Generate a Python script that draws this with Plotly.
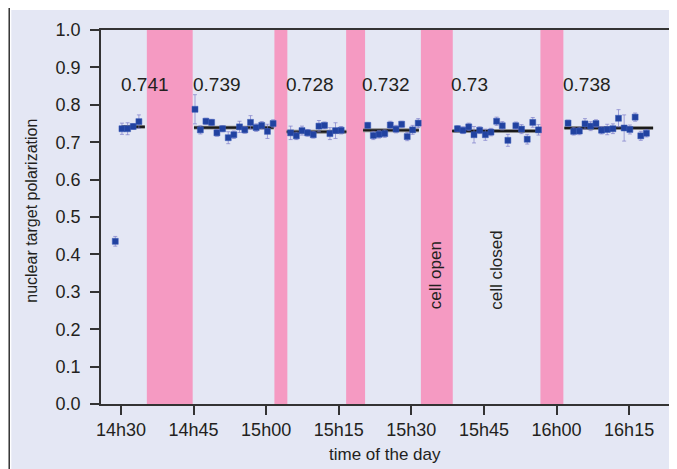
import plotly.graph_objects as go

# x values: minutes after 14h30
tick_vals = [0, 15, 30, 45, 60, 75, 90, 105]
tick_text = ["14h30", "14h45", "15h00", "15h15", "15h30", "15h45", "16h00", "16h15"]

time_min = [
    -1.17, 0.21, 1.38, 2.53, 3.71,
    15.30, 16.41, 17.56, 18.74, 19.83, 21.00, 22.17, 23.33, 24.50, 25.59, 26.77, 27.94, 29.09, 30.27, 31.44,
    35.06, 36.24, 37.41, 38.56, 39.74, 40.91, 42.06, 43.18, 44.33, 45.50,
    51.00, 52.15, 53.33, 54.50, 55.65, 56.83, 58.00, 59.15, 60.26, 61.42,
    69.53, 70.68, 71.86, 72.95, 74.12, 75.29, 76.45, 77.62, 78.79, 79.95, 81.59, 82.77, 83.94, 85.09, 86.27,
    92.38, 93.54, 94.71, 95.88, 97.04, 98.15, 99.30, 100.47, 101.65, 102.80, 103.97, 105.15, 106.24, 107.41, 108.57,
]
polarization = [
    0.435, 0.736, 0.736, 0.742, 0.755,
    0.788, 0.733, 0.756, 0.753, 0.725, 0.736, 0.712, 0.720, 0.741, 0.733, 0.753, 0.739, 0.745, 0.729, 0.750,
    0.725, 0.717, 0.731, 0.725, 0.720, 0.743, 0.745, 0.723, 0.731, 0.732,
    0.745, 0.718, 0.721, 0.723, 0.746, 0.735, 0.748, 0.715, 0.733, 0.751,
    0.736, 0.732, 0.741, 0.720, 0.732, 0.720, 0.727, 0.756, 0.744, 0.705, 0.744, 0.735, 0.708, 0.753, 0.733,
    0.751, 0.729, 0.730, 0.749, 0.743, 0.750, 0.732, 0.734, 0.736, 0.764, 0.738, 0.734, 0.767, 0.717, 0.724,
]
pol_error = [
    0.013, 0.015, 0.016, 0.008, 0.018,
    0.039, 0.011, 0.008, 0.008, 0.009, 0.008, 0.016, 0.010, 0.015, 0.009, 0.018, 0.010, 0.010, 0.019, 0.010,
    0.018, 0.010, 0.012, 0.009, 0.009, 0.015, 0.009, 0.016, 0.021, 0.010,
    0.008, 0.011, 0.010, 0.010, 0.010, 0.010, 0.008, 0.011, 0.012, 0.012,
    0.008, 0.009, 0.010, 0.022, 0.009, 0.015, 0.010, 0.011, 0.011, 0.016, 0.010, 0.012, 0.013, 0.013, 0.014,
    0.008, 0.010, 0.010, 0.014, 0.012, 0.010, 0.010, 0.014, 0.013, 0.023, 0.035, 0.012, 0.011, 0.012, 0.010,
]

fit_start = [0.14, 15.09, 34.24, 50.03, 68.42, 91.62]
fit_end = [4.94, 31.56, 46.59, 61.56, 86.62, 109.95]
fit_value = [0.741, 0.739, 0.728, 0.732, 0.73, 0.738]
fit_label = ["0.741", "0.739", "0.728", "0.732", "0.73", "0.738"]
fit_label_y = 0.853

band_start = [5.35, 31.71, 46.53, 61.97, 86.67]
band_end = [14.82, 34.38, 50.44, 68.56, 91.41]

note_text = ["cell open", "cell closed"]
note_x = [65.0, 77.6]
note_y = 0.247

FONT = "Liberation Sans, Arial, sans-serif"
LAV = "#e4e7f4"
PINK = "#f59ac2"
TXT = "#231f20"

# page offset of the figure (browser body margin)
OFF = 8
PL, PT, PW, PH = 101, 30, 572, 374  # plot area in page pixels


def px(x):
    return (x - PL) / PW


def py(y):
    return (PT + PH - y) / PH


fig = go.Figure()

# fit lines
fx, fy = [], []
for s, e, v in zip(fit_start, fit_end, fit_value):
    fx += [s, e, None]
    fy += [v, v, None]
fig.add_trace(go.Scatter(x=fx, y=fy, mode="lines",
                         line=dict(color="#8a8a8a", width=3.8), hoverinfo="skip", showlegend=False))
fig.add_trace(go.Scatter(x=fx, y=fy, mode="lines",
                         line=dict(color="#1a1a1a", width=2.2), hoverinfo="skip", showlegend=False))

# data points
fig.add_trace(go.Scatter(
    x=time_min, y=polarization, mode="markers",
    marker=dict(symbol="square", size=6, color="#2142a0", line=dict(color="#3d5cb8", width=0.5)),
    error_y=dict(type="data", array=pol_error, visible=True, color="rgba(120,120,200,0.65)",
                 thickness=1, width=2),
    showlegend=False))

shapes = []
shapes.append(dict(type="rect", xref="paper", yref="paper",
                   x0=px(11), x1=1.05, y0=py(480), y1=py(10),
                   fillcolor=LAV, line=dict(width=0), layer="below"))
shapes.append(dict(type="line", xref="paper", yref="paper",
                   x0=px(8.9), x1=px(8.9), y0=-0.3, y1=1.2,
                   line=dict(color="#333333", width=1.5), layer="above"))
for s, e in zip(band_start, band_end):
    shapes.append(dict(type="rect", xref="x", yref="y", x0=s, x1=e, y0=0, y1=1,
                       fillcolor=PINK, line=dict(width=0), layer="below"))

annotations = []
for s, lab in zip(fit_start, fit_label):
    annotations.append(dict(x=s, y=fit_label_y, xref="x", yref="y", text=lab, showarrow=False,
                            xanchor="left", yanchor="middle", xshift=-3,
                            font=dict(family=FONT, size=19, color=TXT)))
for t, x in zip(note_text, note_x):
    annotations.append(dict(x=x, y=note_y, xref="x", yref="y", text=t, showarrow=False,
                            textangle=-90, xanchor="center", yanchor="bottom",
                            font=dict(family=FONT, size=17, color=TXT)))
annotations.append(dict(x=px(31), y=py(210.5), xref="paper", yref="paper",
                        text="nuclear target polarization", showarrow=False, textangle=-90,
                        xanchor="center", yanchor="middle",
                        font=dict(family=FONT, size=16, color=TXT)))
annotations.append(dict(x=px(386), y=py(455), xref="paper", yref="paper",
                        text="time of the day", showarrow=False,
                        xanchor="center", yanchor="middle",
                        font=dict(family=FONT, size=17, color=TXT)))

W, H = 677 - OFF, 469 - OFF
fig.update_layout(
    width=W, height=H,
    margin=dict(l=PL - OFF, r=W - (PL - OFF) - PW, t=PT - OFF, b=H - (PT - OFF) - PH, pad=0),
    paper_bgcolor="white", plot_bgcolor=LAV,
    shapes=shapes, annotations=annotations,
    font=dict(family=FONT, size=18, color=TXT),
    xaxis=dict(range=[-4.12, 113.65], tickvals=tick_vals, ticktext=tick_text,
               showgrid=False, zeroline=False, showline=True, mirror=True,
               linecolor="#333333", linewidth=1.5, ticks="outside", ticklen=9,
               tickcolor="#333333", tickwidth=1.5, tickfont=dict(size=18, color=TXT)),
    yaxis=dict(range=[0, 1.0], tickvals=[i / 10 for i in range(11)],
               ticktext=[f"{i / 10:.1f}" for i in range(11)],
               showgrid=False, zeroline=False, showline=True, mirror=True,
               linecolor="#333333", linewidth=1.5, ticks="outside", ticklen=9,
               tickcolor="#333333", tickwidth=1.5, ticklabelstandoff=6,
               tickfont=dict(size=18, color=TXT)),
)

fig.write_html("out.html")
